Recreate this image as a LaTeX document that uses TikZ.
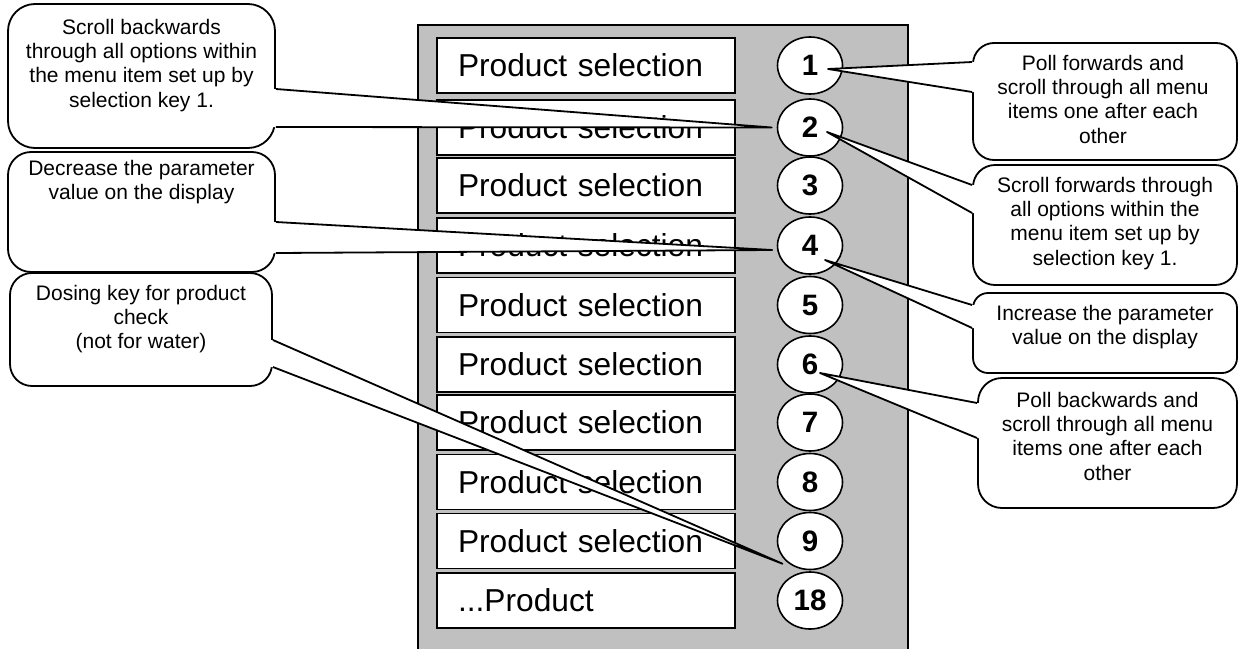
\documentclass[tikz,border=0pt]{standalone}
\usepackage{fontspec}
\setmainfont{Liberation Sans}
\usetikzlibrary{shapes.geometric,calc}
\definecolor{panelgray}{RGB}{192,192,192}
\tikzset{
  pbox/.style={draw, line width=1.6pt, fill=white, text width=256pt, inner xsep=21pt, inner ysep=0pt,
    minimum height=55pt, align=left, font=\fontsize{31.7}{38}\selectfont},
  keyell/.style={ellipse, draw, line width=1.6pt, fill=white, minimum width=65pt, minimum height=57pt,
    inner sep=0pt, font=\fontsize{29.5}{32}\selectfont\bfseries},
  cbox/.style={draw, line width=1.8pt, fill=white, inner sep=0pt},
  ctext/.style={anchor=north, inner sep=0pt, align=center, font=\fontsize{21}{24.3}\selectfont},
  tailline/.style={draw, line width=1.8pt, line join=round},
}
\newcommand\ctail[4]{%
  \fill[white] ($(#1)+(#4)$) -- (#1) -- (#3) -- (#2) -- ($(#2)+(#4)$) -- cycle;
  \draw[tailline] (#1) -- (#3) -- (#2);
}
\begin{document}
\begin{tikzpicture}[x=1pt,y=-1pt]
\useasboundingbox (0,0) rectangle (1239,648);
% panel
\fill[panelgray] (418,25) rectangle (908,660);
\draw[line width=1.4pt] (418,660) -- (418,25) -- (908,25) -- (908,660);
% product boxes
\node[pbox] (p1) at (586,65.5) {Product selection};
\node[pbox] (p2) at (586,127.5) {Product selection};
\node[pbox] (p3) at (586,185.5) {Product selection};
\node[pbox] (p4) at (586,245.5) {Product selection};
\node[pbox] (p5) at (586,305) {Product selection};
\node[pbox] (p6) at (586,364.5) {Product selection};
\node[pbox] (p7) at (586,422.5) {Product selection};
\node[pbox] (p8) at (586,482) {Product selection};
\node[pbox] (p9) at (586,541) {Product selection};
\node[pbox] (p18) at (586,600.5) {...Product};
% keys
\node[keyell] (c1) at (810,65.5) {1};
\node[keyell] (c2) at (810,127.5) {2};
\node[keyell] (c3) at (810,185.5) {3};
\node[keyell] (c4) at (810,245.5) {4};
\node[keyell] (c5) at (810,305) {5};
\node[keyell] (c6) at (810,364.5) {6};
\node[keyell] (c7) at (810,422.5) {7};
\node[keyell] (c8) at (810,482) {8};
\node[keyell] (c9) at (810,541) {9};
\node[keyell] (c18) at (810,600.5) {18};
% callout boxes
\node[cbox, rounded corners=27pt, minimum width=267pt, minimum height=144pt] (A) at (141.5,76) {};
\node[cbox, rounded corners=23pt, minimum width=267pt, minimum height=120pt] (B) at (141.5,212) {};
\node[cbox, rounded corners=22pt, minimum width=262pt, minimum height=113pt] (C) at (141,329.5) {};
\node[cbox, rounded corners=21pt, minimum width=264pt, minimum height=117pt] (D) at (1105,101.5) {};
\node[cbox, rounded corners=22pt, minimum width=264pt, minimum height=120pt] (E) at (1105,225) {};
\node[cbox, rounded corners=15pt, minimum width=264pt, minimum height=80pt] (F) at (1105,333) {};
\node[cbox, rounded corners=24pt, minimum width=259pt, minimum height=130pt] (G) at (1107.5,443) {};
% callout texts
\node[ctext] (tA) at (141.5,18.7) {Scroll backwards\\through all options within\\the menu item set up by\\selection key 1.};
\node[ctext] (tB) at (141.5,159.7) {Decrease the parameter\\value on the display};
\node[ctext] (tC) at (141,284.7) {Dosing key for product\\check\\(not for water)};
\node[ctext] (tD) at (1103,54.7) {Poll forwards and\\scroll through all menu\\items one after each\\other};
\node[ctext] (tE) at (1105,176.7) {Scroll forwards through\\all options within the\\menu item set up by\\selection key 1.};
\node[ctext] (tF) at (1105,304.7) {Increase the parameter\\value on the display};
\node[ctext] (tG) at (1107.5,391.7) {Poll backwards and\\scroll through all menu\\items one after each\\other};
% tail anchor points
\coordinate (a1) at (A.east |- 0,89);
\coordinate (a2) at (A.east |- 0,127);
\coordinate (aT) at ($(c2.west)+(-5,0)$);
\coordinate (b1) at (B.east |- 0,222);
\coordinate (b2) at (B.east |- 0,253);
\coordinate (bT) at ($(c4.west)+(-4.5,4.5)$);
\coordinate (k1) at (C.east |- 0,340);
\coordinate (k2) at (C.east |- 0,367);
\coordinate (kT) at ($(c9.south west)+(-4,2)$);
\coordinate (d1) at (D.west |- 0,62);
\coordinate (d2) at (D.west |- 0,92);
\coordinate (dT) at ($(c1.center)+(18,3.5)$);
\coordinate (e1) at (E.west |- 0,185);
\coordinate (e2) at (E.west |- 0,213);
\coordinate (eT) at ($(c2.center)+(17,4.5)$);
\coordinate (f1) at (F.west |- 0,305);
\coordinate (f2) at (F.west |- 0,328);
\coordinate (fT) at ($(c4.center)+(15,14.5)$);
\coordinate (g1) at (G.west |- 0,403);
\coordinate (g2) at (G.west |- 0,438);
\coordinate (gT) at ($(c6.center)+(10,8.5)$);
% tails
\ctail{a1}{a2}{aT}{-3,0}
\ctail{b1}{b2}{bT}{-3,0}
\ctail{k1}{k2}{kT}{-3,0}
\ctail{d1}{d2}{dT}{3,0}
\ctail{e1}{e2}{eT}{3,0}
\ctail{f1}{f2}{fT}{3,0}
\ctail{g1}{g2}{gT}{3,0}
\end{tikzpicture}
\end{document}
